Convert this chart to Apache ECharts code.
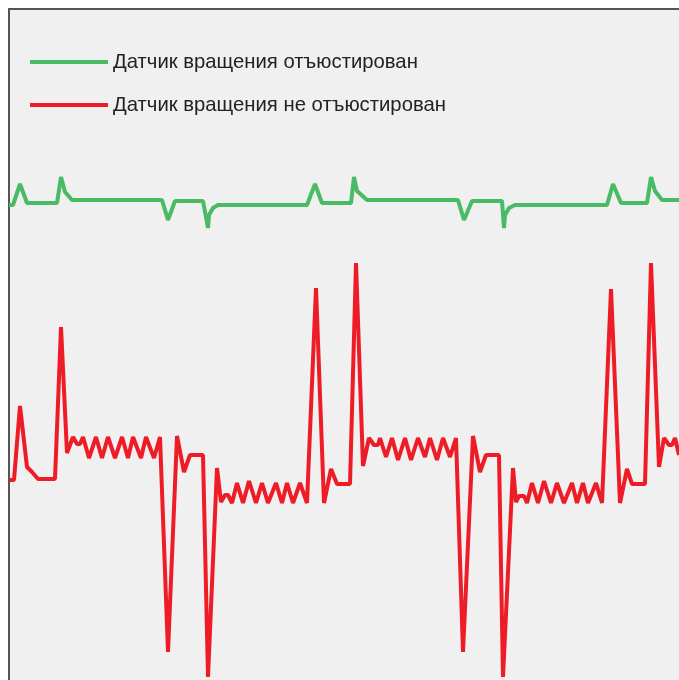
<!DOCTYPE html>
<html>
<head>
<meta charset="utf-8">
<script src="https://cdn.jsdelivr.net/npm/echarts@6/dist/echarts.min.js"></script>
<style>
html,body{margin:0;padding:0;background:#fff;}
#chart{width:679px;height:680px;}
</style>
</head>
<body>
<div id="chart"></div>
<script>
// Series names (legend)
const seriesNames = ['Датчик вращения отъюстирован', 'Датчик вращения не отъюстирован'];

// Adjusted sensor signal: [time, amplitude]
const adjustedSignal = [
  [0,48.4],[0.4,48.4],[1.1,50.5],[1.8,48.6],[4.8,48.6],[5.2,51.2],[5.6,49.7],[6.3,48.9],
  [15.3,48.9],[15.9,46.9],[16.6,48.8],[19.4,48.8],[19.9,46.1],[20.0,47.4],[20.4,48.1],[20.9,48.4],
  [29.8,48.4],[30.6,50.5],[31.3,48.6],[34.2,48.6],[34.5,51.2],[34.8,49.8],[35.8,48.9],
  [44.9,48.9],[45.5,46.9],[46.3,48.8],[49.3,48.8],[49.5,46.1],[49.6,47.4],[50.0,48.1],[50.6,48.4],
  [59.8,48.4],[60.4,50.5],[61.2,48.6],[63.8,48.6],[64.2,51.2],[64.6,49.8],[65.3,48.9],[67.0,48.9]
];

// Non-adjusted sensor signal: [time, amplitude]
const unadjustedSignal = [
  [0,20.9],[0.5,20.9],[1.1,28.3],[1.8,22.2],[2.3,21.7],[2.9,21.0],[4.6,21.0],[5.2,36.2],
  [5.8,23.6],[6.0,23.8],[6.4,25.2],[6.8,24.5],[7.1,24.5],[7.4,25.2],[8.0,23.1],[8.7,25.2],
  [9.3,23.1],[9.9,25.2],[10.6,23.1],[11.3,25.2],[11.9,23.1],[12.4,25.2],[13.2,23.1],[13.7,25.2],
  [14.5,23.1],[15.1,25.2],[15.9,3.7],[16.8,25.3],[17.5,21.7],[18.1,23.4],[19.4,23.4],[19.9,1.2],
  [20.8,22.1],[21.2,18.7],[21.6,19.4],[21.9,19.4],[22.3,18.6],[22.8,20.6],[23.4,18.6],[24.0,20.8],
  [24.7,18.6],[25.3,20.6],[25.9,18.6],[26.7,20.6],[27.3,18.6],[27.8,20.6],[28.4,18.6],[29.1,20.6],
  [29.8,18.6],[30.7,40.1],[31.5,18.6],[32.2,22.0],[32.8,20.5],[34.1,20.5],[34.7,42.6],[35.4,22.3],
  [36.0,25.1],[36.5,24.4],[36.9,24.4],[37.1,25.1],[37.7,23.2],[38.3,25.1],[38.9,22.9],[39.6,25.1],
  [40.2,22.9],[40.9,25.1],[41.6,23.2],[42.1,25.1],[42.8,22.9],[43.4,25.1],[44.1,23.2],[44.7,25.1],
  [45.4,3.7],[46.4,25.3],[47.1,21.7],[47.7,23.4],[49.0,23.4],[49.4,1.2],[50.4,22.1],[50.7,18.7],
  [51.0,19.3],[51.5,19.3],[51.8,18.6],[52.3,20.6],[52.9,18.6],[53.5,20.8],[54.2,18.6],[54.8,20.6],
  [55.5,18.6],[56.3,20.6],[56.8,18.6],[57.4,20.6],[57.9,18.6],[58.7,20.6],[59.3,18.6],[60.2,40.0],
  [61.1,18.6],[61.8,22.0],[62.3,20.5],[63.6,20.5],[64.2,42.6],[65.0,22.2],[65.5,25.1],[66.0,24.4],
  [66.3,24.4],[66.6,25.1],[67.0,23.4]
];

const frameAxisLine = {show: true, onZero: false, lineStyle: {color: '#555555', width: 2}};

const chart = echarts.init(document.getElementById('chart'), null, {renderer: 'canvas'});
chart.setOption({
  animation: false,
  backgroundColor: '#ffffff',
  grid: {
    show: true, left: 9, top: 9, right: 0, bottom: 0,
    backgroundColor: '#f0f0f0', borderWidth: 0
  },
  legend: {
    orient: 'vertical', left: 25, top: 47,
    icon: 'rect', itemWidth: 78, itemHeight: 4, itemGap: 23,
    data: seriesNames,
    textStyle: {fontFamily: 'Liberation Sans, Arial, sans-serif', fontSize: 20.3, color: '#222222', padding: [0,0,8,0]}
  },
  xAxis: {type: 'value', min: 0, max: 67, position: 'top',
    axisLine: frameAxisLine, axisTick: {show: false}, axisLabel: {show: false}, splitLine: {show: false}},
  yAxis: {type: 'value', min: 0.9, max: 68, position: 'left',
    axisLine: frameAxisLine, axisTick: {show: false}, axisLabel: {show: false}, splitLine: {show: false}},
  series: [
    {name: seriesNames[0], type: 'line', data: adjustedSignal, showSymbol: false, symbol: 'none',
     itemStyle: {color: '#48bb64'}, lineStyle: {color: '#48bb64', width: 4}},
    {name: seriesNames[1], type: 'line', data: unadjustedSignal, showSymbol: false, symbol: 'none',
     itemStyle: {color: '#ee1c26'}, lineStyle: {color: '#ee1c26', width: 4}}
  ]
});
</script>
</body>
</html>
